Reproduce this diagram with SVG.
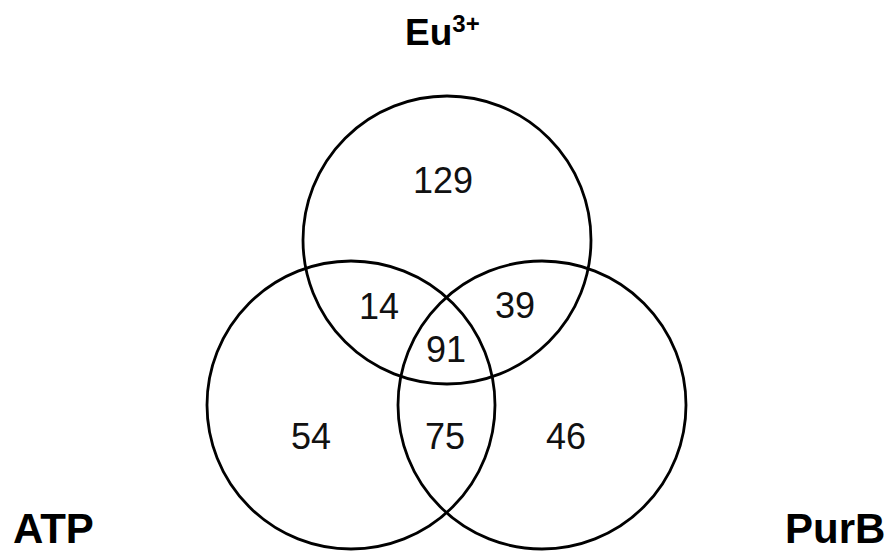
<svg xmlns="http://www.w3.org/2000/svg" width="891" height="553" viewBox="0 0 891 553">
<style>
.c{fill:none;stroke:#000;stroke-width:2.8}
.n{font-family:"Liberation Sans",Arial,sans-serif;font-size:36px;fill:#111;text-anchor:middle}
.l{font-family:"Liberation Sans",Arial,sans-serif;font-weight:bold;font-size:42px;fill:#000}
</style>
<rect width="891" height="553" fill="#fff"/>
<g id="connectors"></g>
<g id="set-eu"><circle class="c" cx="447" cy="240" r="144"/>
<text class="l" x="405" y="45" style="font-size:37px">Eu<tspan font-size="24" dy="-13">3+</tspan></text></g>
<g id="set-atp"><circle class="c" cx="351" cy="405" r="144"/>
<text class="l" x="13" y="543">ATP</text></g>
<g id="set-purb"><circle class="c" cx="542" cy="405" r="144"/>
<text class="l" x="785" y="543">PurB</text></g>
<g id="counts">
<text class="n" x="443" y="193">129</text>
<text class="n" x="379" y="319">14</text>
<text class="n" x="515" y="318">39</text>
<text class="n" x="446" y="362">91</text>
<text class="n" x="311" y="449">54</text>
<text class="n" x="445" y="449">75</text>
<text class="n" x="566" y="449">46</text>
</g>
</svg>
